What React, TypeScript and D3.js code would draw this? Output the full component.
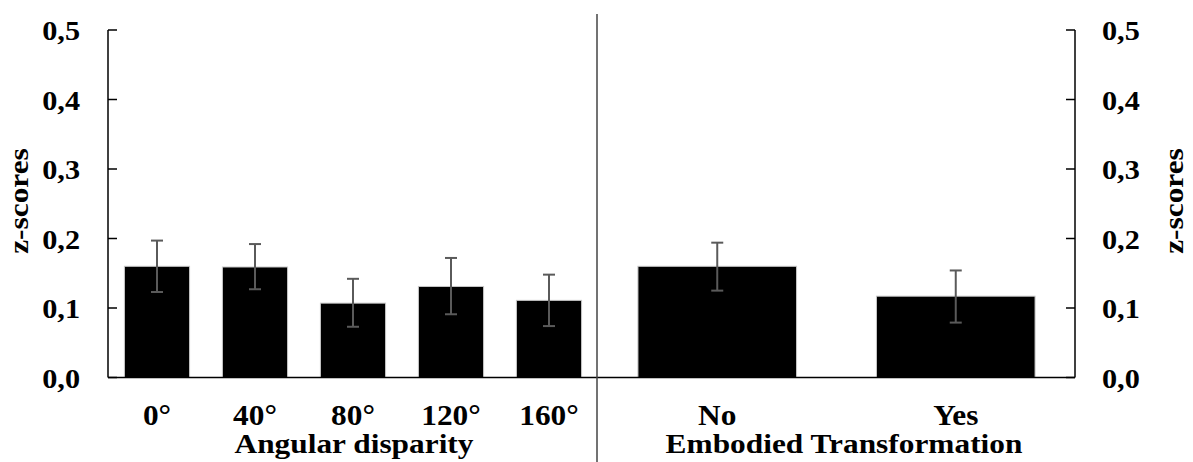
import React from "react";
import * as d3 from "d3";

const width = 1193;
const height = 462;

// left panel: angular disparity
const angles = ["0°", "40°", "80°", "120°", "160°"];
const angleMeans = [0.160, 0.159, 0.107, 0.131, 0.111];
const angleHi = [0.197, 0.192, 0.142, 0.172, 0.148];
const angleLo = [0.123, 0.127, 0.073, 0.091, 0.074];

// right panel: embodied transformation
const embodied = ["No", "Yes"];
const embodiedMeans = [0.160, 0.117];
const embodiedHi = [0.194, 0.154];
const embodiedLo = [0.125, 0.079];

const yTicks = [0, 0.1, 0.2, 0.3, 0.4, 0.5];

const errColor = "#5a5a5a";

const y = d3.scaleLinear().domain([0, 0.5]).range([377.5, 30]);
const xLeft = d3.scaleBand().domain(angles).range([108, 598]).paddingInner(0.335).paddingOuter(0.1675);
const xRight = d3.scaleBand().domain(embodied).range([598, 1075]).paddingInner(0.335).paddingOuter(0.1675);

const fmt = (v: number) => v.toFixed(1).replace(".", ",");

// text in the reference is a bit wider than plain Times, stretch it horizontally
function Label({ x, y, anchor = "middle", size = 28, sx = 1.08, rotate = 0, children }) {
  return (
    <text transform={`translate(${x},${y}) rotate(${rotate}) scale(${sx},1)`} textAnchor={anchor}
      fontSize={size} fontWeight="bold">{children}</text>
  );
}

function Bars({ x, cats, means, hi, lo }) {
  return (
    <g>
      {cats.map((c, i) => {
        const cx = x(c) + x.bandwidth() / 2;
        return (
          <g key={c}>
            <rect x={x(c)} y={y(means[i])} width={x.bandwidth()} height={y(0) - y(means[i])}
              fill="#000" stroke="#c8c8c8" strokeWidth={1} />
            <line x1={cx} x2={cx} y1={y(hi[i])} y2={y(lo[i])} stroke={errColor} strokeWidth={2} />
            <line x1={cx - 6} x2={cx + 6} y1={y(hi[i])} y2={y(hi[i])} stroke={errColor} strokeWidth={2} />
            <line x1={cx - 6} x2={cx + 6} y1={y(lo[i])} y2={y(lo[i])} stroke={errColor} strokeWidth={2} />
            <Label x={cx} y={425} size={29}>{c}</Label>
          </g>
        );
      })}
    </g>
  );
}

export default function App() {
  const x0 = 108;
  const x1 = 1075;
  return (
    <svg width={width} height={height}
      style={{ position: "absolute", left: 0, top: 0, fontFamily: '"Liberation Serif", "Times New Roman", serif' }}>
      <rect width={width} height={height} fill="#fff" />
      <Bars x={xLeft} cats={angles} means={angleMeans} hi={angleHi} lo={angleLo} />
      <Bars x={xRight} cats={embodied} means={embodiedMeans} hi={embodiedHi} lo={embodiedLo} />

      {/* axes */}
      <line x1={x0} x2={x0} y1={y(0.5)} y2={y(0)} stroke="#000" strokeWidth={1.5} />
      <line x1={x1} x2={x1} y1={y(0.5)} y2={y(0)} stroke="#000" strokeWidth={1.5} />
      <line x1={x0} x2={x1} y1={y(0)} y2={y(0)} stroke="#000" strokeWidth={1.5} />
      {yTicks.map(t => (
        <g key={t}>
          <line x1={x0} x2={x0 + 9} y1={y(t)} y2={y(t)} stroke="#000" strokeWidth={1.5} />
          <line x1={x1 - 9} x2={x1} y1={y(t)} y2={y(t)} stroke="#000" strokeWidth={1.5} />
          <Label x={80} y={y(t) + 10} anchor="end" size={28}>{fmt(t)}</Label>
          <Label x={1102} y={y(t) + 10} anchor="start" size={28}>{fmt(t)}</Label>
        </g>
      ))}

      {/* divider */}
      <line x1={597} x2={597} y1={14} y2={462} stroke="#444" strokeWidth={1.5} />

      {/* titles */}
      <Label x={28} y={201} rotate={-90} size={28} sx={1.12}>z-scores</Label>
      <Label x={1183} y={201} rotate={-90} size={28} sx={1.12}>z-scores</Label>
      <Label x={354} y={453} size={28} sx={1.12}>Angular disparity</Label>
      <Label x={844} y={453} size={28} sx={1.12}>Embodied Transformation</Label>
    </svg>
  );
}
